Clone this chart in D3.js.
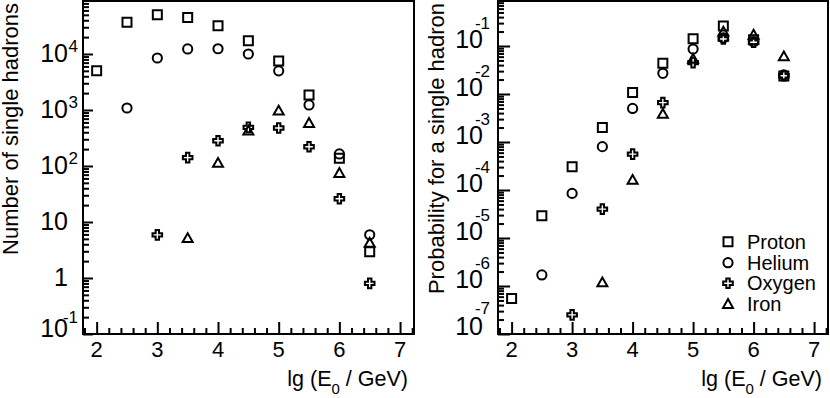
<!DOCTYPE html>
<html><head><meta charset="utf-8">
<script src="https://cdn.jsdelivr.net/npm/d3@7"></script>
<style>
body{margin:0;background:#fff}
svg{display:block}
text{font-family:"Liberation Sans",Arial,Helvetica,sans-serif;fill:#000}
</style>
</head><body>
<svg id="c" width="830" height="398"></svg>
<script>
// ---------------- data ----------------
const energies = [2, 2.5, 3, 3.5, 4, 4.5, 5, 5.5, 6, 6.5];
const seriesNames = ["Proton", "Helium", "Oxygen", "Iron"];
const xTickValues = [2, 3, 4, 5, 6, 7];
const xTickLabels = ["2", "3", "4", "5", "6", "7"];
// number of single hadrons
const numProton = [5000, 37000, 50000, 45000, 32000, 17300, 7500, 1850, 137, 2.95];
const numHelium = [null, 1085, 8480, 12300, 12400, 10000, 5000, 1230, 164, 5.9];
const numOxygen = [null, null, 5.9, 141, 283, 490, 477, 221, 26, 0.8];
const numIron   = [null, null, null, 5.1, 112, 422, 960, 578, 74, 4.2];
// probability for a single hadron
const probProton = [5.5e-7, 2.9e-5, 3.06e-4, 2.0e-3, 1.07e-2, 0.0435, 0.142, 0.261, 0.135, 0.0237];
const probHelium = [null, 1.7e-6, 8.5e-5, 8.0e-4, 5.0e-3, 0.027, 0.0866, 0.147, 0.122, 0.025];
const probOxygen = [null, null, 2.5e-7, 4.0e-5, 5.6e-4, 6.6e-3, 0.045, 0.14, 0.12, 0.024];
const probIron   = [null, null, null, 1.17e-6, 1.6e-4, 3.8e-3, 0.053, 0.196, 0.169, 0.060];
// y decade labels
const numDecades = [-1, 0, 1, 2, 3, 4];
const probDecades = [-7, -6, -5, -4, -3, -2, -1];

// ---------------- drawing ----------------
const svg = d3.select("#c");

const markerPath = {
  Proton: "M-4.5,-4.5H4.5V4.5H-4.5Z",
  Helium: "M4.6,0A4.6,4.6 0 1,1 -4.6,0A4.6,4.6 0 1,1 4.6,0Z",
  Oxygen: "M-1.7,-4.8H1.7V-1.7H4.8V1.7H1.7V4.8H-1.7V1.7H-4.8V-1.7H-1.7Z",
  Iron: "M0,-5.2L5,3.6H-5Z"
};

function drawPanel(cfg) {
  const g = svg.append("g");
  const x = d3.scaleLinear().domain([1.775, 7.23]).range([cfg.x0, cfg.x1]);
  const y = d3.scaleLog().domain(cfg.yDomain).range([cfg.y1, cfg.y0]);

  // frame
  g.append("rect").attr("x", cfg.x0).attr("y", cfg.y0)
    .attr("width", cfg.x1 - cfg.x0).attr("height", cfg.y1 - cfg.y0)
    .attr("fill", "none").attr("stroke", "#000").attr("stroke-width", 2);

  // y ticks
  const lo = Math.floor(Math.log10(cfg.yDomain[0])), hi = Math.ceil(Math.log10(cfg.yDomain[1]));
  const majors = [], minors = [];
  for (let k = lo; k <= hi; k++) {
    const v = Math.pow(10, k);
    if (v >= cfg.yDomain[0] * 0.999 && v <= cfg.yDomain[1]) majors.push(v);
    for (let m = 2; m <= 9; m++) { const mv = m * v; if (mv <= cfg.yDomain[1]) minors.push(mv); }
  }
  const yMaj = g.append("g").attr("transform", `translate(${cfg.x0},0)`)
    .call(d3.axisLeft(y).tickValues(majors).tickSize(-cfg.majorLen).tickFormat(""));
  const yMin = g.append("g").attr("transform", `translate(${cfg.x0},0)`)
    .call(d3.axisLeft(y).tickValues(minors).tickSize(-6).tickFormat(""));
  // x ticks
  const xMinorVals = d3.range(1.8, 7.21, 0.2).filter(v => Math.abs(v - Math.round(v)) > 0.05);
  const xMaj = g.append("g").attr("transform", `translate(0,${cfg.y1})`)
    .call(d3.axisBottom(x).tickValues(xTickValues).tickSize(-12).tickFormat(""));
  const xMin = g.append("g").attr("transform", `translate(0,${cfg.y1})`)
    .call(d3.axisBottom(x).tickValues(xMinorVals).tickSize(-6).tickFormat(""));
  [yMaj, yMin, xMaj, xMin].forEach(a => {
    a.select(".domain").remove();
    a.selectAll("line").attr("stroke", "#000").attr("stroke-width", 2);
  });

  // x labels
  xTickValues.forEach((v, i) => {
    g.append("text").attr("x", x(v)).attr("y", cfg.y1 + 23)
      .attr("text-anchor", "middle").attr("font-size", 22).text(xTickLabels[i]);
  });

  // y labels
  cfg.decades.forEach(k => {
    const ty = y(Math.pow(10, k));
    const bottom = Math.abs(ty - cfg.y1) < 1;
    if (cfg.plainSmall && k === 0) {
      g.append("text").attr("x", cfg.x0 - 15).attr("y", ty + cfg.baseOff)
        .attr("text-anchor", "end").attr("font-size", 25).text("1");
    } else if (cfg.plainSmall && k === 1) {
      g.append("text").attr("x", cfg.x0 - 15).attr("y", ty + cfg.baseOff)
        .attr("text-anchor", "end").attr("font-size", 25).text("10");
    } else {
      g.append("text").attr("x", cfg.x0 - 15).attr("y", ty + (bottom ? cfg.bottomBase : cfg.baseOff))
        .attr("text-anchor", "end").attr("font-size", 25).text("10");
      g.append("text").attr("x", cfg.x0 - cfg.expGap).attr("y", ty + (bottom ? cfg.bottomExp : cfg.expOff))
        .attr("text-anchor", "end").attr("font-size", 17).text(String(k).replace("-", "-"));
    }
  });

  // axis titles
  const xt = g.append("text").attr("x", cfg.x1 - 6).attr("y", 386)
    .attr("text-anchor", "end").attr("font-size", 21.5);
  xt.append("tspan").text("lg (E");
  xt.append("tspan").attr("font-size", 15).attr("dy", 8).text("0");
  xt.append("tspan").attr("dy", -8).text(" / GeV)");

  g.append("text").attr("transform", `translate(${cfg.titleX},3) rotate(-90)`)
    .attr("text-anchor", "end").attr("font-size", 22).text(cfg.title);

  // markers
  cfg.series.forEach((vals, si) => {
    const name = seriesNames[si];
    const pts = energies.map((e, i) => ({ e, v: vals[i] })).filter(d => d.v != null);
    g.selectAll(null).data(pts).enter().append("path")
      .attr("d", markerPath[name])
      .attr("transform", d => `translate(${x(d.e)},${y(d.v)})`)
      .attr("fill", "none").attr("stroke", "#000").attr("stroke-width", 2);
  });

  return { x, y, g };
}

drawPanel({
  x0: 83, x1: 414, y0: 1, y1: 334,
  yDomain: [0.1, Math.pow(10, 4.946)],
  decades: numDecades, plainSmall: true,
  majorLen: 10, baseOff: 8, expOff: -2, bottomBase: 3, bottomExp: -11, expGap: 5,
  title: "Number of single hadrons", titleX: 18,
  series: [numProton, numHelium, numOxygen, numIron]
});

const right = drawPanel({
  x0: 498, x1: 828, y0: 1, y1: 334,
  yDomain: [1e-7, Math.pow(10, -0.0625)],
  decades: probDecades, plainSmall: false,
  majorLen: 12, baseOff: 2, expOff: -17, bottomBase: 1, bottomExp: -20, expGap: 8,
  title: "Probability for a single hadron", titleX: 444,
  series: [probProton, probHelium, probOxygen, probIron]
});

// legend
const legY = [241.7, 262.7, 283.3, 304.3];
seriesNames.forEach((name, i) => {
  right.g.append("path").attr("d", markerPath[name])
    .attr("transform", `translate(728,${legY[i]})`)
    .attr("fill", "none").attr("stroke", "#000").attr("stroke-width", 2);
  right.g.append("text").attr("x", 747).attr("y", legY[i] + 7)
    .attr("font-size", 20).text(name);
});
</script>
</body></html>
